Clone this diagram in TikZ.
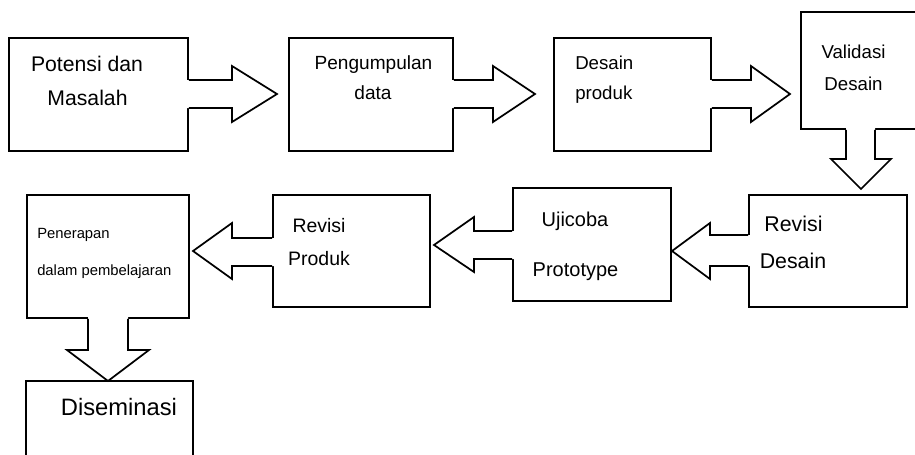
\documentclass[tikz,border=0pt]{standalone}
\usepackage{fontspec}
\setmainfont{Liberation Sans}
\usetikzlibrary{calc}
\tikzset{
  ln/.style={line width=1.3pt, line join=miter},
  box/.style 2 args={draw, ln, inner sep=0pt, minimum width=#1*0.75pt, minimum height=#2*0.75pt},
  lbl/.style={inner sep=0pt, anchor=base, font=\fontsize{#1}{#1}\selectfont},
  lblw/.style={inner sep=0pt, anchor=base west, font=\fontsize{#1}{#1}\selectfont},
}
% right-pointing block arrow leaving node #1
\newcommand{\rightarr}[8]{%
  \fill[white] ($(#1.east |- 0,#2)+(-2,0)$) -- (#4,#2) -- (#4,#5) -- (#7,#8) -- (#4,#6) -- (#4,#3) -- ($(#1.east |- 0,#3)+(-2,0)$) -- cycle;
  \draw[ln] (#1.east |- 0,#2) -- (#4,#2) -- (#4,#5) -- (#7,#8) -- (#4,#6) -- (#4,#3) -- (#1.east |- 0,#3);}
% left-pointing block arrow leaving node #1
\newcommand{\leftarr}[8]{%
  \fill[white] ($(#1.west |- 0,#2)+(2,0)$) -- (#4,#2) -- (#4,#5) -- (#7,#8) -- (#4,#6) -- (#4,#3) -- ($(#1.west |- 0,#3)+(2,0)$) -- cycle;
  \draw[ln] (#1.west |- 0,#2) -- (#4,#2) -- (#4,#5) -- (#7,#8) -- (#4,#6) -- (#4,#3) -- (#1.west |- 0,#3);}
% down-pointing block arrow leaving node #1
\newcommand{\downarr}[8]{%
  \fill[white] ($(#1.south -| #2,0)+(0,-2)$) -- (#2,#4) -- (#5,#4) -- (#7,#8) -- (#6,#4) -- (#3,#4) -- ($(#1.south -| #3,0)+(0,-2)$) -- cycle;
  \draw[ln] (#1.south -| #2,0) -- (#2,#4) -- (#5,#4) -- (#7,#8) -- (#6,#4) -- (#3,#4) -- (#1.south -| #3,0);}
\begin{document}
\begin{tikzpicture}[x=0.75pt, y=-0.75pt]
\useasboundingbox (0,0) rectangle (915,454);
\clip (0,0) rectangle (915,454);
\fill[white] (0,0) rectangle (915,454);
% boxes
\node[box={179}{113}] (b1) at (98.5,94.5) {};
\node[box={164}{113}] (b2) at (371,94.5) {};
\node[box={157}{113}] (b3) at (632.5,94.5) {};
\node[box={129}{117}] (b4) at (865.5,70.5) {};
\node[box={158}{112}] (b5) at (828,251) {};
\node[box={158}{113}] (b6) at (592,244.5) {};
\node[box={157}{112}] (b7) at (351.5,251) {};
\node[box={162}{123}] (b8) at (108,256.5) {};
\node[box={167}{114}] (b9) at (109.5,438) {};
% arrows
\rightarr{b1}{80}{108}{232}{66}{122}{277}{94}
\rightarr{b2}{80}{108}{493}{66}{122}{535}{94}
\rightarr{b3}{80}{108}{751}{66}{122}{790}{94}
\downarr{b4}{846}{875}{159}{831}{891}{861}{189}
\leftarr{b5}{235}{266}{710}{223}{279}{672}{251}
\leftarr{b6}{231}{259}{474}{217}{272}{434}{245}
\leftarr{b7}{238}{266}{232}{223}{279}{193}{251}
\downarr{b8}{88}{128}{350}{67}{149}{108}{381}
% texts
\node[lbl=15.9pt] (t1a) at (87,71) {Potensi dan};
\node[lbl=15.9pt] (t1b) at (87.5,105) {Masalah};
\node[lbl=14.3pt] (t2a) at (373.5,69.3) {Pengumpulan};
\node[lbl=14.3pt] (t2b) at (373,99.3) {data};
\node[lblw=14pt] (t3a) at (575,69) {Desain};
\node[lblw=14pt] (t3b) at (575,99) {produk};
\node[lbl=14pt] (t4a) at (853.5,58) {Validasi};
\node[lbl=14pt] (t4b) at (853.5,90) {Desain};
\node[lbl=16pt] (t5a) at (793.5,231.7) {Revisi};
\node[lbl=16pt] (t5b) at (793,268.3) {Desain};
\node[lbl=15pt] (t6a) at (575,226) {Ujicoba};
\node[lbl=15pt] (t6b) at (575.5,276) {Prototype};
\node[lbl=14.6pt] (t7a) at (319,232.3) {Revisi};
\node[lbl=14.6pt] (t7b) at (319,265) {Produk};
\node[lblw=11.1pt] (t8a) at (37,238.3) {Penerapan};
\node[lblw=11.1pt] (t8b) at (37,275) {dalam pembelajaran};
\node[lbl=17.8pt] (t9) at (119,415) {Diseminasi};
\end{tikzpicture}
\end{document}
